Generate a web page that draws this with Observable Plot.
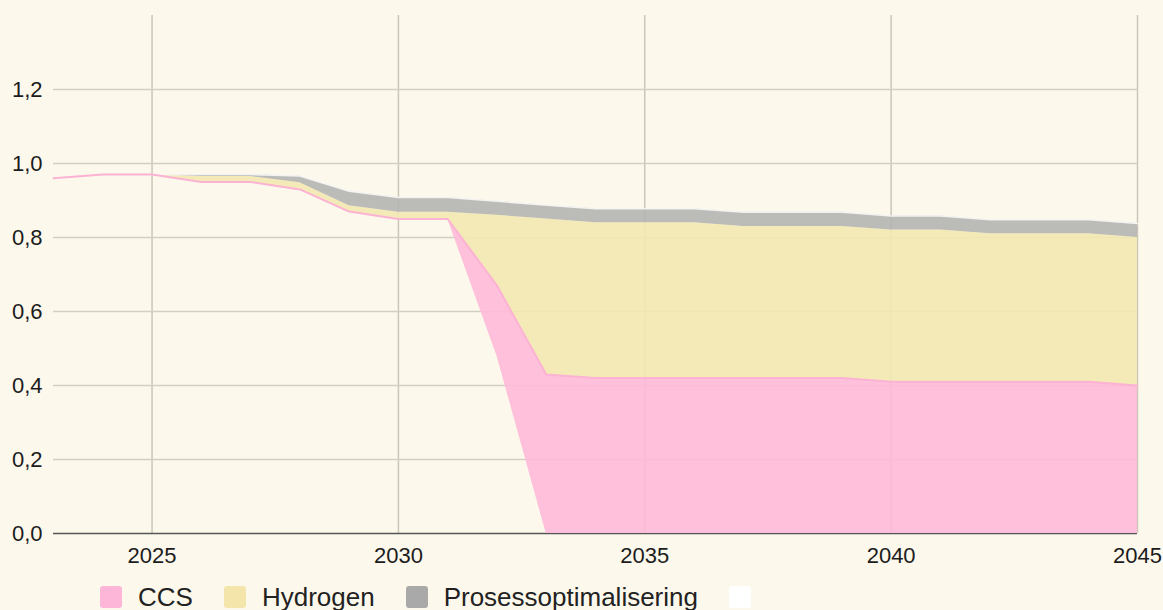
<!DOCTYPE html>
<html><head><meta charset="utf-8">
<script src="https://cdn.jsdelivr.net/npm/d3@7"></script>
<script src="https://cdn.jsdelivr.net/npm/@observablehq/plot@0.6"></script>
<style>
html,body{margin:0;padding:0;background:#fdf8ec;}
body{width:1163px;height:610px;overflow:hidden;position:relative;font-family:"Liberation Sans",Arial,sans-serif;}
#legend{position:absolute;left:100px;top:586px;display:flex;align-items:center;font-size:26px;color:#222;line-height:22px;}
.item{display:flex;align-items:center;margin-right:31px;}
.sw{width:22px;height:22px;border-radius:3px;margin-right:16px;}
</style></head><body>
<div id="chart"></div>
<div id="legend"></div>
<script>
const years = [2023,2024,2025,2026,2027,2028,2029,2030,2031,2032,2033,2034,2035,2036,2037,2038,2039,2040,2041,2042,2043,2044,2045];
const rest     = [0.96,0.97,0.97,0.95,0.95,0.93,0.87,0.85,0.85,0.48,0,0,0,0,0,0,0,0,0,0,0,0,0];
const ccs      = [0,0,0,0,0,0,0,0,0,0.19,0.43,0.42,0.42,0.42,0.42,0.42,0.42,0.41,0.41,0.41,0.41,0.41,0.40];
const hydrogen = [0,0,0,0.015,0.015,0.018,0.016,0.018,0.018,0.19,0.42,0.42,0.42,0.42,0.41,0.41,0.41,0.41,0.41,0.40,0.40,0.40,0.40];
const prosess  = [0,0,0,0.005,0.005,0.018,0.039,0.04,0.04,0.038,0.037,0.038,0.038,0.038,0.038,0.038,0.038,0.038,0.038,0.038,0.038,0.038,0.038];
const seriesOrder = ["Rest","CCS","Hydrogen","Prosessoptimalisering"];
const legendLabels = ["CCS","Hydrogen","Prosessoptimalisering",""];
const legendColors = ["#fdb5d8","#f4e6aa","#a9a9a9","#ffffff"];
const xTicks = [2025,2030,2035,2040,2045];
const yTicks = [0,0.2,0.4,0.6,0.8,1.0,1.2];

const seriesValues = {Rest: rest, CCS: ccs, Hydrogen: hydrogen, Prosessoptimalisering: prosess};
const data = [];
for (const s of seriesOrder) years.forEach((yr,i) => data.push({year: yr, series: s, value: seriesValues[s][i]}));
const lower = data.filter(d => d.series === "Rest" || d.series === "CCS");

const fmt = d => d.toFixed(1).replace(".", ",");

const chart = Plot.plot({
  width: 1163, height: 575,
  marginLeft: 53, marginRight: 26, marginTop: 15, marginBottom: 42,
  style: {background: "transparent", fontFamily: "'Liberation Sans', Arial, sans-serif", fontSize: "22px", color: "#1c1c1c"},
  x: {domain: [2023, 2045], label: null},
  y: {domain: [0, 1.4], label: null},
  color: {domain: seriesOrder, range: ["transparent", "#feb9d9", "#f3e8b2", "#b4b4b3"]},
  marks: [
    Plot.gridX(xTicks, {stroke: "#cbc7b8", strokeOpacity: 1, strokeWidth: 1.5}),
    Plot.gridY(yTicks.filter(t => t > 0), {stroke: "#d3cfc2", strokeOpacity: 1, strokeWidth: 1.5}),
    Plot.ruleY([0], {stroke: "#555", strokeWidth: 1.5}),
    Plot.areaY(data, {x: "year", y: "value", z: "series", fill: "series", fillOpacity: 0.9, order: seriesOrder}),
    Plot.lineY(data, Plot.groupX({y: "sum"}, {x: "year", y: "value", stroke: "#ffffff", strokeOpacity: 0.8, strokeWidth: 1.5})),
    Plot.lineY(lower, Plot.groupX({y: "sum"}, {x: "year", y: "value", stroke: "#fcb2d3", strokeWidth: 2})),
    Plot.axisX(xTicks, {tickSize: 0, tickPadding: 14, tickFormat: d => String(d), label: null}),
    Plot.axisY(yTicks, {tickSize: 0, tickPadding: 11, tickFormat: fmt, label: null})
  ]
});
document.getElementById("chart").appendChild(chart);

const legend = document.getElementById("legend");
legendLabels.forEach((lab, i) => {
  const it = document.createElement("div");
  it.className = "item";
  const sw = document.createElement("div");
  sw.className = "sw";
  sw.style.background = legendColors[i];
  it.appendChild(sw);
  if (lab) { const t = document.createElement("span"); t.textContent = lab; it.appendChild(t); }
  legend.appendChild(it);
});
</script>
</body></html>
